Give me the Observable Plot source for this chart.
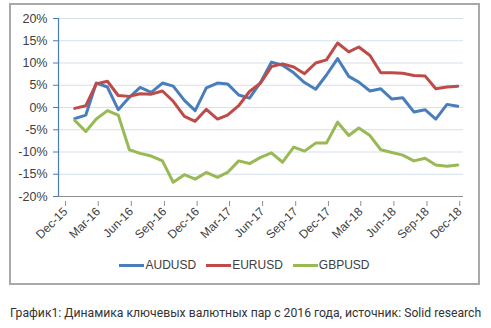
<!DOCTYPE html>
<html>
<head>
<meta charset="utf-8">
<script src="https://cdn.jsdelivr.net/npm/d3@7"></script>
<script src="https://cdn.jsdelivr.net/npm/@observablehq/plot@0.6"></script>
<style>
  html, body { margin: 0; padding: 0; background: #fff; }
  body { width: 491px; height: 328px; position: relative; overflow: hidden; }
  #frame { position: absolute; left: 9px; top: 3px; width: 467px; height: 278px; border: 2px solid #a9a9a9; }
  #chart { position: absolute; left: 0; top: 0; }
  #legend { position: absolute; left: 9px; top: 258px; width: 471px; display: flex; justify-content: center; align-items: center;
            font: 12px "Liberation Sans", Arial, sans-serif; color: #404040; }
  .item { display: flex; align-items: center; margin: 0 5px; }
  .sw { width: 25px; height: 3px; margin-right: 1px; }
  #caption { position: absolute; left: 10px; top: 306px; font: 12.2px Roboto, sans-serif; color: #333; white-space: nowrap; }
</style>
</head>
<body>
<div id="frame"></div>
<div id="chart"></div>
<div id="legend"></div>
<div id="caption">График1: Динамика ключевых валютных пар с 2016 года, источник: Solid research</div>
<script>
// Months of observation (mid-month points)
const months = [
  "2016-01","2016-02","2016-03","2016-04","2016-05","2016-06","2016-07","2016-08","2016-09","2016-10","2016-11","2016-12",
  "2017-01","2017-02","2017-03","2017-04","2017-05","2017-06","2017-07","2017-08","2017-09","2017-10","2017-11","2017-12",
  "2018-01","2018-02","2018-03","2018-04","2018-05","2018-06","2018-07","2018-08","2018-09","2018-10","2018-11","2018-12"
];
const seriesNames = ["AUDUSD", "EURUSD", "GBPUSD"];
const seriesColors = ["#4a7ebb", "#be4b48", "#98b954"];
const audusd = [-2.5,-1.7,5.5,4.6,-0.5,2.3,4.5,3.4,5.5,4.8,1.6,-0.7,
                4.4,5.5,5.3,2.8,2.1,5.7,10.2,9.5,7.8,5.6,4.1,7.3,
                11.0,7.0,5.7,3.7,4.2,1.9,2.2,-1.0,-0.5,-2.6,0.7,0.3];
const eurusd = [-0.2,0.4,5.3,5.9,2.7,2.5,3.1,3.0,3.7,1.4,-2.0,-3.1,
                -0.4,-2.6,-1.7,0.4,3.6,5.5,9.2,9.8,9.1,7.6,10.0,10.7,
                14.5,12.5,13.6,11.7,7.8,7.8,7.7,7.2,7.1,4.2,4.6,4.8];
const gbpusd = [-2.9,-5.4,-2.6,-0.7,-1.7,-9.5,-10.3,-10.9,-12.0,-16.8,-15.1,-16.1,
                -14.6,-15.7,-14.6,-12.0,-12.6,-11.2,-10.2,-12.3,-8.9,-9.8,-8.0,-8.0,
                -3.3,-6.3,-4.6,-6.3,-9.5,-10.1,-10.7,-12.0,-11.4,-12.9,-13.2,-12.9];
const xTickDates = ["2015-12-01","2016-03-01","2016-06-01","2016-09-01","2016-12-01","2017-03-01","2017-06-01",
                    "2017-09-01","2017-12-01","2018-03-01","2018-06-01","2018-09-01","2018-12-01"];
const xTickLabels = ["Dec-15","Mar-16","Jun-16","Sep-16","Dec-16","Mar-17","Jun-17",
                     "Sep-17","Dec-17","Mar-18","Jun-18","Sep-18","Dec-18"];
const yTicks = [-20,-15,-10,-5,0,5,10,15,20];
const xDomain = ["2015-12-01","2018-12-31"];

const parse = s => new Date(s + "T00:00:00Z");
const values = [audusd, eurusd, gbpusd];
const rows = [];
seriesNames.forEach((name, k) => {
  months.forEach((m, i) => rows.push({series: name, date: parse(m + "-15"), value: values[k][i]}));
});
const tickDates = xTickDates.map(parse);
const labelOf = new Map(tickDates.map((d, i) => [+d, xTickLabels[i]]));
const dom = xDomain.map(parse);

const chart = Plot.plot({
  width: 491,
  height: 250,
  marginLeft: 58,
  marginRight: 28,
  marginTop: 18,
  marginBottom: 54,
  style: {fontFamily: '"Liberation Sans", Arial, sans-serif', fontSize: "12px", background: "transparent", color: "#404040"},
  x: {type: "utc", domain: dom},
  y: {domain: [-20, 20]},
  color: {domain: seriesNames, range: seriesColors},
  marks: [
    Plot.gridY(yTicks.filter(d => d > -20), {stroke: "#d5dfed", strokeOpacity: 1}),
    Plot.ruleY([-20], {stroke: "#8f8f8f", strokeWidth: 1}),
    Plot.ruleX([dom[0]], {stroke: "#4a7ebb", strokeWidth: 1.2}),
    Plot.axisY({ticks: yTicks, tickFormat: d => d + "%", label: null, tickSize: 5, tickPadding: 6, stroke: "#4a7ebb", fill: "#404040", fontSize: 12.5}),
    Plot.axisX({ticks: tickDates, tickFormat: d => labelOf.get(+d), label: null, tickRotate: -45, tickSize: 5, tickPadding: 3,
                stroke: "#8f8f8f", fill: "#404040", fontSize: 12, dx: 7, dy: 5}),
    Plot.line(rows, {x: "date", y: "value", stroke: "series", strokeWidth: 3, strokeLinejoin: "round", strokeLinecap: "round"})
  ]
});
document.getElementById("chart").appendChild(chart);

const legend = document.getElementById("legend");
seriesNames.forEach((name, k) => {
  const item = document.createElement("div");
  item.className = "item";
  const sw = document.createElement("span");
  sw.className = "sw";
  sw.style.background = seriesColors[k];
  const t = document.createElement("span");
  t.textContent = name;
  item.appendChild(sw);
  item.appendChild(t);
  legend.appendChild(item);
});
</script>
</body>
</html>
